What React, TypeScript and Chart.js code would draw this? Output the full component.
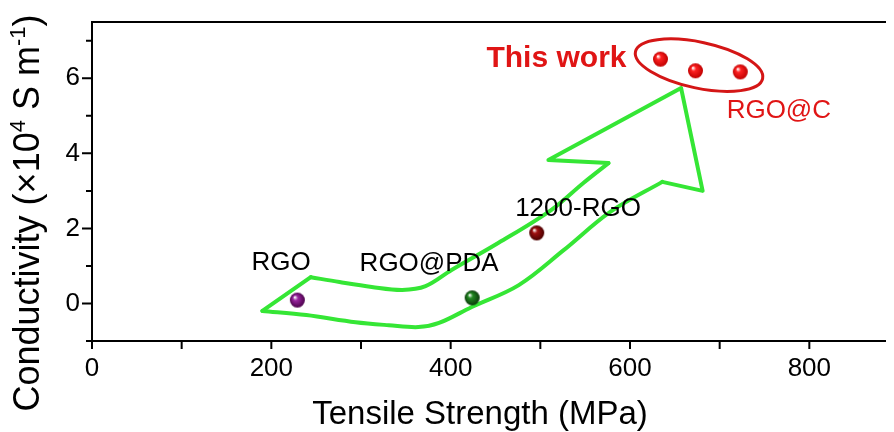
import React, { useEffect, useRef } from 'react';
import { Chart, registerables } from 'chart.js';

Chart.register(...registerables);

const FONT = '"Liberation Sans", Arial, Helvetica, sans-serif';

// ---- axes ----
const xMin = 0;
const xMax = 900;
const xStep = 100;
const xLabelStep = 200;
const yMin = -1;
const yMax = 7.5;
const yStep = 1;
const yLabelStep = 2;

const xTitle = 'Tensile Strength (MPa)';
const yTitleTexts = ['Conductivity (×10', '4', ' S m', '-1', ')'];
const yTitleSuper = [false, true, false, true, false];

// ---- samples (tensile strength MPa, conductivity ×10^4 S/m) ----
const rgoX = [229];
const rgoY = [0.09];
const pdaX = [424];
const pdaY = [0.15];
const r1200X = [496];
const r1200Y = [1.88];
const thisWorkX = [634, 673, 723];
const thisWorkY = [6.51, 6.2, 6.17];

// ---- text annotations ----
const labelTexts = ['RGO', 'RGO@PDA', '1200-RGO', 'This work', 'RGO@C'];
const labelX = [211, 376, 542, 518, 766];
const labelY = [1.09, 1.05, 2.52, 6.53, 5.13];
const labelBold = [false, false, false, true, false];
const labelRed = [false, false, false, true, true];

// ---- green arrow outline (data coordinates) ----
const arrowUpperX = [244, 276, 312, 346, 372, 401, 453, 512, 548, 576];
const arrowUpperY = [0.7, 0.57, 0.44, 0.36, 0.46, 0.89, 1.61, 2.49, 3.21, 3.74];
const arrowHeadX = [576, 509, 657, 681, 636];
const arrowHeadY = [3.74, 3.82, 5.74, 3.0, 3.24];
const arrowLowerX = [636, 578, 526, 476, 423, 387, 364, 331, 294, 239, 190];
const arrowLowerY = [3.24, 2.44, 1.42, 0.49, -0.1, -0.52, -0.63, -0.58, -0.5, -0.31, -0.2];
const arrowTailX = [190, 244];
const arrowTailY = [-0.2, 0.7];

// ---- ellipse around "This work" ----
const ellipseX = 677;
const ellipseY = 6.35;

const GREEN = '#35e635';
const RED = '#e01515';

function zip(xs: number[], ys: number[]) {
  return xs.map((x, i) => ({ x, y: ys[i] }));
}

function sphere(base: string, dark: string, r = 7.5) {
  const size = Math.ceil(r * 2) + 2;
  const c = document.createElement('canvas');
  c.width = size;
  c.height = size;
  const g = c.getContext('2d')!;
  const cx = size / 2;
  const cy = size / 2;
  const grad = g.createRadialGradient(cx - r * 0.35, cy - r * 0.4, r * 0.05, cx, cy, r);
  grad.addColorStop(0, '#ffffff');
  grad.addColorStop(0.3, base);
  grad.addColorStop(1, dark);
  g.fillStyle = grad;
  g.beginPath();
  g.arc(cx, cy, r, 0, Math.PI * 2);
  g.fill();
  return c;
}

const decor = {
  id: 'decor',
  afterDraw(chart: any) {
    const ctx = chart.ctx as CanvasRenderingContext2D;
    const area = chart.chartArea;
    const xs = chart.scales.x;
    const ys = chart.scales.y;
    ctx.save();
    ctx.strokeStyle = '#000';
    ctx.lineWidth = 2;
    ctx.lineCap = 'butt';
    // axes lines
    ctx.beginPath();
    ctx.moveTo(area.left - 6, area.bottom);
    ctx.lineTo(chart.width, area.bottom);
    ctx.moveTo(area.left, area.top);
    ctx.lineTo(chart.width, area.top);
    ctx.moveTo(area.left, area.top - 1);
    ctx.lineTo(area.left, area.bottom + 8);
    ctx.stroke();
    // x ticks
    ctx.beginPath();
    for (let v = xMin; v <= xMax; v += xStep) {
      const px = xs.getPixelForValue(v);
      ctx.moveTo(px, area.bottom);
      ctx.lineTo(px, area.bottom + 8);
    }
    // y ticks
    for (let v = Math.ceil(yMin); v <= yMax; v += yStep) {
      const py = ys.getPixelForValue(v);
      const len = v % yLabelStep === 0 ? 10 : 6;
      ctx.moveTo(area.left - len, py);
      ctx.lineTo(area.left, py);
    }
    ctx.stroke();

    // ellipse
    ctx.strokeStyle = '#d41616';
    ctx.lineWidth = 3;
    ctx.beginPath();
    ctx.ellipse(xs.getPixelForValue(ellipseX), ys.getPixelForValue(ellipseY), 65, 23, (12 * Math.PI) / 180, 0, Math.PI * 2);
    ctx.stroke();

    // labels
    ctx.textAlign = 'center';
    ctx.textBaseline = 'middle';
    labelTexts.forEach((t, i) => {
      ctx.font = `${labelBold[i] ? 'bold 30px' : '26px'} ${FONT}`;
      ctx.fillStyle = labelRed[i] ? RED : '#000';
      ctx.fillText(t, xs.getPixelForValue(labelX[i]), ys.getPixelForValue(labelY[i]));
    });

    // x title
    ctx.fillStyle = '#000';
    ctx.font = `33px ${FONT}`;
    ctx.textBaseline = 'alphabetic';
    ctx.fillText(xTitle, area.left + 388, area.bottom + 83);

    // y title with superscripts
    const f = 36;
    const fs = 22;
    ctx.translate(area.left - 53, area.top + 191);
    ctx.rotate(-Math.PI / 2);
    ctx.textAlign = 'left';
    let total = 0;
    const widths = yTitleTexts.map((t, i) => {
      ctx.font = `${yTitleSuper[i] ? fs : f}px ${FONT}`;
      const w = ctx.measureText(t).width;
      total += w;
      return w;
    });
    let x = -total / 2;
    yTitleTexts.forEach((t, i) => {
      ctx.font = `${yTitleSuper[i] ? fs : f}px ${FONT}`;
      ctx.fillText(t, x, yTitleSuper[i] ? -f * 0.4 : 0);
      x += widths[i];
    });
    ctx.restore();
  },
};

export default function App() {
  const ref = useRef<HTMLCanvasElement>(null);
  useEffect(() => {
    if (!ref.current) return;
    Chart.defaults.font.family = FONT;
    const lineDs = (label: string, xs: number[], ys: number[], tension: number) => ({
      label,
      data: zip(xs, ys),
      showLine: true,
      tension,
      borderColor: GREEN,
      backgroundColor: GREEN,
      borderWidth: 4,
      pointRadius: 0,
      borderCapStyle: 'round',
      borderJoinStyle: 'round',
      fill: false,
      order: 10,
    });
    const ptDs = (label: string, xs: number[], ys: number[], img: HTMLCanvasElement) => ({
      label,
      data: zip(xs, ys),
      pointStyle: img,
      pointRadius: 8,
      showLine: false,
      order: 0,
    });
    const chart = new Chart(ref.current, {
      type: 'scatter',
      data: {
        datasets: [
          ptDs('RGO', rgoX, rgoY, sphere('#9a25a0', '#4a004a')),
          ptDs('RGO@PDA', pdaX, pdaY, sphere('#228a22', '#0a3a0a')),
          ptDs('1200-RGO', r1200X, r1200Y, sphere('#a01010', '#4a0000')),
          ptDs('This work', thisWorkX, thisWorkY, sphere('#ff2222', '#c00000')),
          lineDs('arrowUpper', arrowUpperX, arrowUpperY, 0.35),
          lineDs('arrowHead', arrowHeadX, arrowHeadY, 0),
          lineDs('arrowLower', arrowLowerX, arrowLowerY, 0.35),
          lineDs('arrowTail', arrowTailX, arrowTailY, 0),
        ] as any,
      },
      options: {
        responsive: false,
        animation: false,
        events: [],
        layout: { padding: { top: 14, right: 6, left: 0, bottom: 0 } },
        plugins: { legend: { display: false }, tooltip: { enabled: false }, title: { display: false } },
        scales: {
          x: {
            type: 'linear',
            min: xMin,
            max: xMax,
            grid: { display: false },
            border: { display: false },
            ticks: {
              stepSize: xStep,
              autoSkip: false,
              maxRotation: 0,
              padding: 4,
              color: '#000',
              font: { size: 26, family: FONT },
              callback: (v: any) => (Number(v) % xLabelStep === 0 ? String(v) : ''),
            },
            afterFit: (s: any) => {
              s.height = 91;
              s.paddingLeft = 0;
              s.paddingRight = 0;
            },
          },
          y: {
            type: 'linear',
            min: yMin,
            max: yMax,
            grid: { display: false },
            border: { display: false },
            ticks: {
              stepSize: yStep,
              autoSkip: false,
              padding: 4,
              color: '#000',
              font: { size: 26, family: FONT },
              callback: (v: any) => (Number(v) >= 0 && Number(v) % yLabelStep === 0 ? String(v) : ''),
            },
            afterFit: (s: any) => {
              s.width = 84;
              s.paddingTop = 0;
              s.paddingBottom = 0;
            },
          },
        },
      } as any,
      plugins: [decor],
    });
    return () => chart.destroy();
  }, []);
  return (
    <div style={{ width: 886, height: 424, overflow: 'hidden' }}>
      <canvas ref={ref} width={900} height={424} style={{ display: 'block' }} />
    </div>
  );
}
